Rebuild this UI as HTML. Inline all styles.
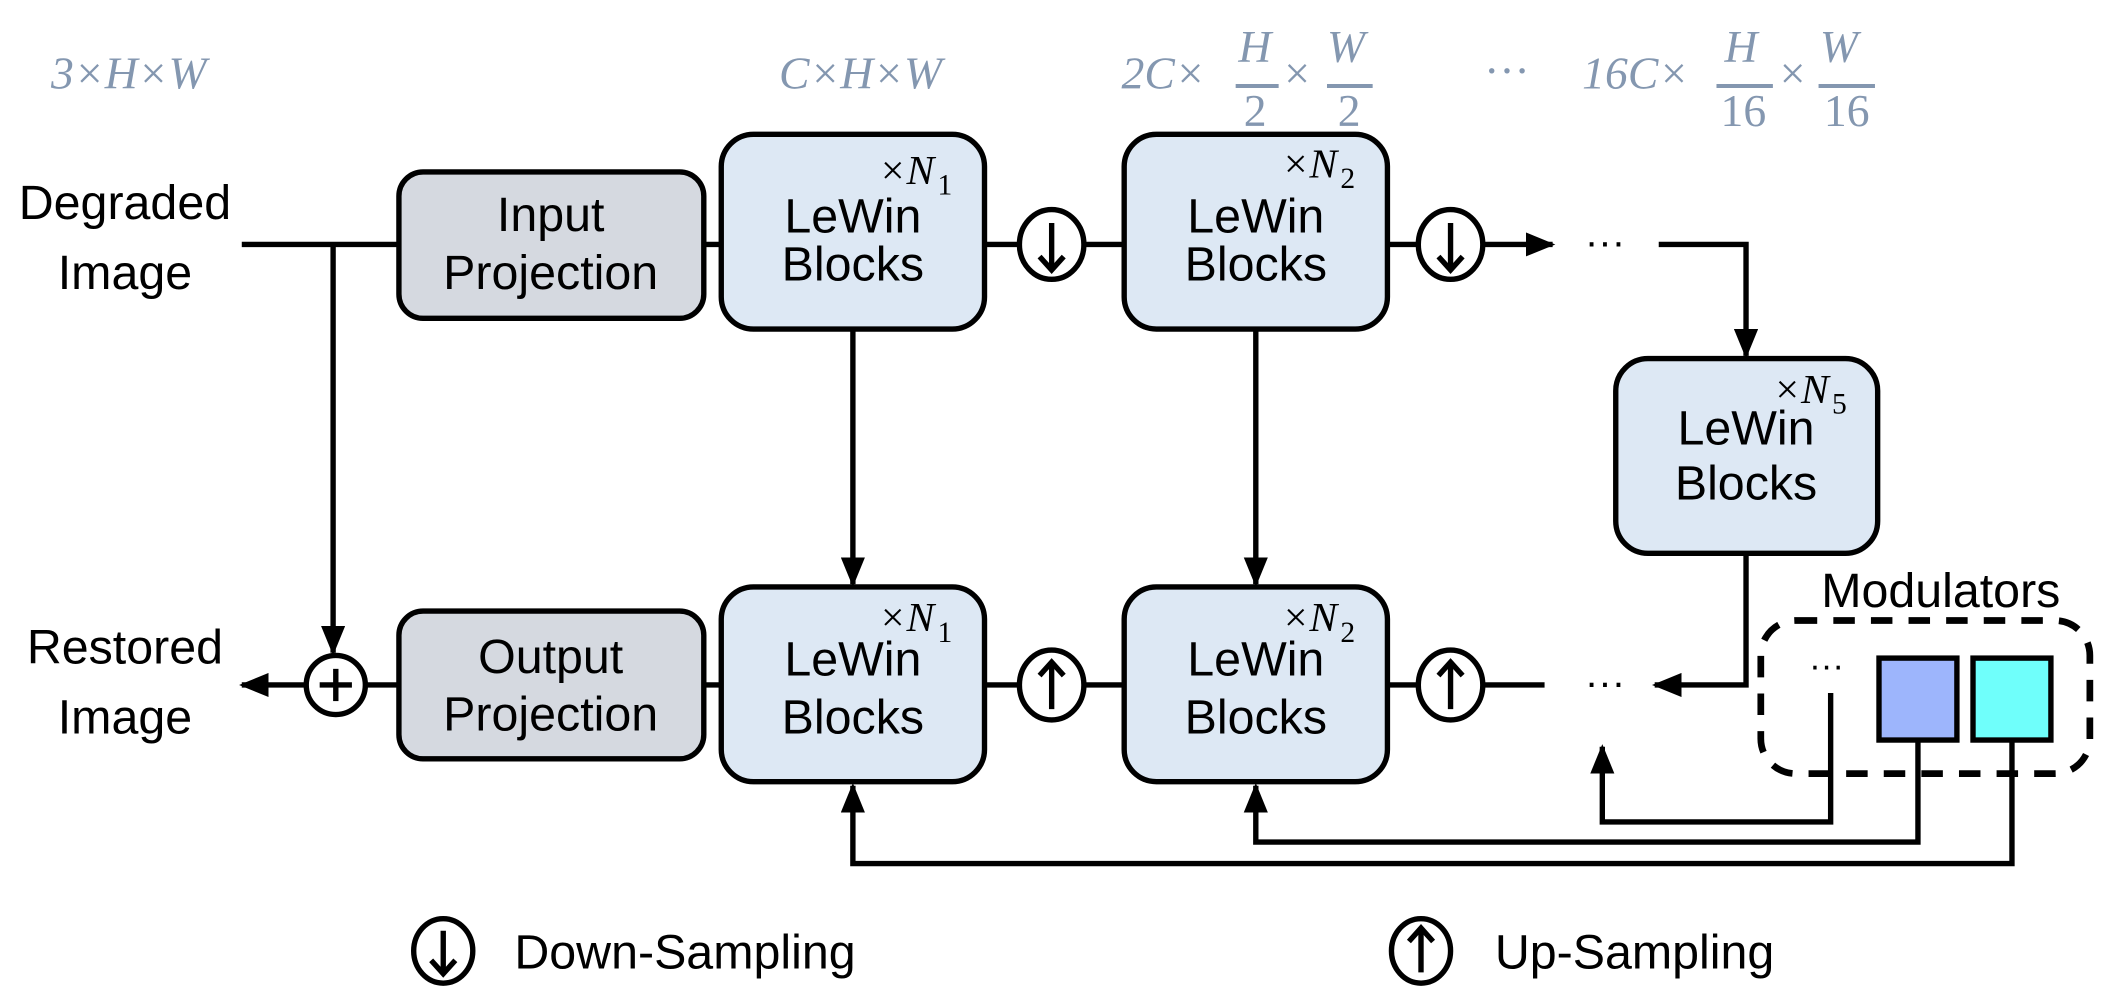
<!DOCTYPE html>
<html><head><meta charset="utf-8"><style>
html,body{margin:0;padding:0;background:#fff;}
svg{display:block;}
.t{font-family:"Liberation Sans",sans-serif;font-size:36px;fill:#000;text-anchor:middle;}
.m{font-family:"Liberation Serif",serif;font-size:34px;fill:#8497b0;font-style:italic;}
.s{font-family:"Liberation Serif",serif;font-size:31px;fill:#000;font-style:italic;}
.sb{font-family:"Liberation Serif",serif;font-size:22px;fill:#000;}
.ln{stroke:#000;stroke-width:4;fill:none;}
.bx{stroke:#000;stroke-width:4;}
</style></head><body>
<svg width="2106" height="992" viewBox="0 0 1568 738.6" xmlns="http://www.w3.org/2000/svg">
<defs>
<marker id="ah" markerWidth="22" markerHeight="18" refX="20" refY="9" orient="auto" markerUnits="userSpaceOnUse"><path d="M0,0 L22,9 L0,18 z" fill="#000"/></marker></defs>

<g>
<text class="m" x="38" y="66">3×H×W</text>
<text class="m" x="580" y="66">C×H×W</text>
<text class="m" x="835" y="66">2C×</text>
<text class="m" x="922" y="46">H</text><line x1="920" y1="64" x2="952" y2="64" stroke="#8497b0" stroke-width="3"/><text class="m" x="926" y="94" style="font-style:normal">2</text>
<text class="m" x="954" y="66">×</text>
<text class="m" x="988" y="46">W</text><line x1="988" y1="64" x2="1022" y2="64" stroke="#8497b0" stroke-width="3"/><text class="m" x="996" y="94" style="font-style:normal">2</text>
<text class="m" x="1105" y="64" style="font-style:normal">···</text>
<text class="m" x="1178" y="66">16C×</text>
<text class="m" x="1284" y="46">H</text><line x1="1278" y1="64" x2="1320" y2="64" stroke="#8497b0" stroke-width="3"/><text class="m" x="1281" y="94" style="font-style:normal">16</text>
<text class="m" x="1323" y="66">×</text>
<text class="m" x="1355" y="46">W</text><line x1="1354" y1="64" x2="1396" y2="64" stroke="#8497b0" stroke-width="3"/><text class="m" x="1358" y="94" style="font-style:normal">16</text>
</g>

<text class="t" x="93" y="163">Degraded</text>
<text class="t" x="93" y="215">Image</text>
<text class="t" x="93" y="494">Restored</text>
<text class="t" x="93" y="546">Image</text>

<g>
<line class="ln" x1="180" y1="182" x2="297" y2="182"/>
<line class="ln" x1="524" y1="182" x2="537" y2="182"/>
<line class="ln" x1="733" y1="182" x2="759" y2="182"/>
<line class="ln" x1="807" y1="182" x2="837" y2="182"/>
<line class="ln" x1="1033" y1="182" x2="1056" y2="182"/>
<line class="ln" x1="1104" y1="182" x2="1156" y2="182" marker-end="url(#ah)"/>
<polyline class="ln" points="1235,182 1300,182 1300,265" marker-end="url(#ah)"/>
<polyline class="ln" points="1300,412 1300,510 1232,510" marker-end="url(#ah)"/>
<line class="ln" x1="1104" y1="510" x2="1150" y2="510"/>
<line class="ln" x1="1033" y1="510" x2="1056" y2="510"/>
<line class="ln" x1="733" y1="510" x2="759" y2="510"/>
<line class="ln" x1="807" y1="510" x2="837" y2="510"/>
<line class="ln" x1="524" y1="510" x2="537" y2="510"/>
<line class="ln" x1="297" y1="510" x2="272" y2="510"/>
<line class="ln" x1="228" y1="510" x2="180" y2="510" marker-end="url(#ah)"/>
<line class="ln" x1="248" y1="182" x2="248" y2="486" marker-end="url(#ah)"/>
<line class="ln" x1="635" y1="245" x2="635" y2="435" marker-end="url(#ah)"/>
<line class="ln" x1="935" y1="245" x2="935" y2="435" marker-end="url(#ah)"/>
<polyline class="ln" points="1363,516 1363,612 1193,612 1193,556" marker-end="url(#ah)"/>
<polyline class="ln" points="1428,552 1428,627 935,627 935,585" marker-end="url(#ah)"/>
<polyline class="ln" points="1498,552 1498,643 635,643 635,585" marker-end="url(#ah)"/>
</g>
<text class="t" x="1195" y="190" style="font-size:30px">···</text>
<text class="t" x="1195" y="518" style="font-size:30px">···</text>

<g>
<rect class="bx" x="297" y="128" width="227" height="109" rx="18" fill="#d5d9e0"/>
<text class="t" x="410" y="172">Input</text><text class="t" x="410" y="215">Projection</text></g>
<g>
<rect class="bx" x="297" y="455" width="227" height="110" rx="18" fill="#d5d9e0"/>
<text class="t" x="410" y="501">Output</text><text class="t" x="410" y="544">Projection</text></g>

<g>
<rect class="bx" x="537" y="100" width="196" height="145" rx="24" fill="#dde8f4"/>
<text class="t" x="635" y="173">LeWin</text><text class="t" x="635" y="209">Blocks</text>
<text class="s" x="654" y="137">×N</text><text class="sb" x="698" y="145">1</text></g>
<g>
<rect class="bx" x="837" y="100" width="196" height="145" rx="24" fill="#dde8f4"/>
<text class="t" x="935" y="173">LeWin</text><text class="t" x="935" y="209">Blocks</text>
<text class="s" x="954" y="132">×N</text><text class="sb" x="998" y="140">2</text></g>
<g>
<rect class="bx" x="1203" y="267" width="195" height="145" rx="24" fill="#dde8f4"/>
<text class="t" x="1300" y="331">LeWin</text><text class="t" x="1300" y="372">Blocks</text>
<text class="s" x="1320" y="300">×N</text><text class="sb" x="1364" y="308">5</text></g>
<g>
<rect class="bx" x="537" y="437" width="196" height="145" rx="24" fill="#dde8f4"/>
<text class="t" x="635" y="503">LeWin</text><text class="t" x="635" y="546">Blocks</text>
<text class="s" x="654" y="470">×N</text><text class="sb" x="698" y="478">1</text></g>
<g>
<rect class="bx" x="837" y="437" width="196" height="145" rx="24" fill="#dde8f4"/>
<text class="t" x="935" y="503">LeWin</text><text class="t" x="935" y="546">Blocks</text>
<text class="s" x="954" y="470">×N</text><text class="sb" x="998" y="478">2</text></g>

<g><ellipse class="ln" cx="783" cy="182" rx="24" ry="26" fill="#fff"/><line class="ln" x1="783" y1="166" x2="783" y2="200"/><polyline class="ln" points="774,191 783,201 792,191"/></g>
<g><ellipse class="ln" cx="1080" cy="182" rx="24" ry="26" fill="#fff"/><line class="ln" x1="1080" y1="166" x2="1080" y2="200"/><polyline class="ln" points="1071,191 1080,201 1089,191"/></g>
<g><ellipse class="ln" cx="783" cy="510" rx="24" ry="26" fill="#fff"/><line class="ln" x1="783" y1="494" x2="783" y2="528"/><polyline class="ln" points="774,503 783,493 792,503"/></g>
<g><ellipse class="ln" cx="1080" cy="510" rx="24" ry="26" fill="#fff"/><line class="ln" x1="1080" y1="494" x2="1080" y2="528"/><polyline class="ln" points="1071,503 1080,493 1089,503"/></g>
<g><circle class="ln" cx="250" cy="510" r="22" fill="#fff"/><line class="ln" x1="238" y1="510" x2="262" y2="510"/><line class="ln" x1="250" y1="498" x2="250" y2="522"/></g>

<g>
<text class="t" x="1445" y="452">Modulators</text>
<rect x="1311" y="462" width="245" height="114" rx="26" fill="none" stroke="#000" stroke-width="5" stroke-dasharray="16,12"/>
<text class="t" x="1360" y="504" style="font-size:26px">···</text>
<rect class="bx" x="1399" y="490" width="58" height="61" fill="#9db5fc"/>
<rect class="bx" x="1469" y="490" width="58" height="61" fill="#6ffffb"/>
</g>

<g><ellipse class="ln" cx="330" cy="708" rx="22" ry="24" fill="#fff"/><line class="ln" x1="330" y1="693" x2="330" y2="724"/><polyline class="ln" points="321,715 330,725 339,715"/>
<text class="t" x="510" y="721">Down-Sampling</text></g>
<g><ellipse class="ln" cx="1058" cy="708" rx="22" ry="24" fill="#fff"/><line class="ln" x1="1058" y1="693" x2="1058" y2="724"/><polyline class="ln" points="1049,701 1058,691 1067,701"/>
<text class="t" x="1217" y="721">Up-Sampling</text></g>
</svg>
</body></html>
